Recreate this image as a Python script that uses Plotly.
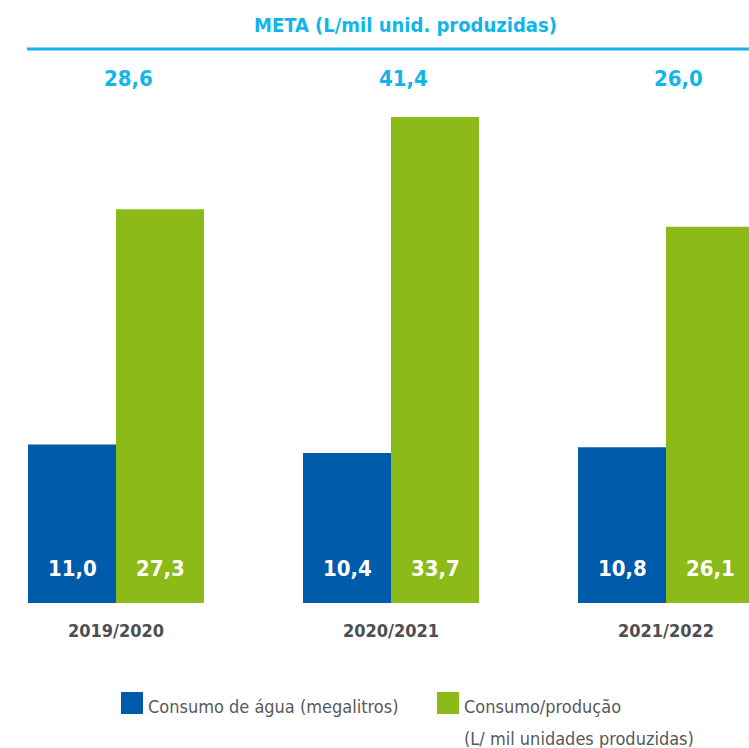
import plotly.graph_objects as go

periodos = ["2019/2020", "2020/2021", "2021/2022"]
consumo_agua = [11.0, 10.4, 10.8]
consumo_producao = [27.3, 33.7, 26.1]
meta = [28.6, 41.4, 26.0]

BLUE = "#005BAA"
GREEN = "#8CBB19"
CYAN = "#12B5EA"
GRAY = "#4D4D52"
FONT = "DejaVu Sans Condensed, Liberation Sans Narrow, sans-serif"

W, H = 749, 748
TOP, BOTTOM = 100, 145
PLOT_H = H - TOP - BOTTOM


def py(pixel):
    # pixel row -> paper y
    return (H - BOTTOM - pixel) / PLOT_H


def px(pixel):
    return pixel / W


def fmt(v):
    return f"{v:.1f}".replace(".", ",")


fig = go.Figure()
fig.add_trace(go.Bar(x=periodos, y=consumo_agua, name="Consumo de água (megalitros)",
                     marker=dict(color=BLUE, line=dict(width=0))))
fig.add_trace(go.Bar(x=periodos, y=consumo_producao, name="Consumo/produção",
                     marker=dict(color=GREEN, line=dict(width=0))))

annotations = []
# values inside bars, near the base
for i, p in enumerate(periodos):
    for vals, shift in ((consumo_agua, -44), (consumo_producao, 44)):
        annotations.append(dict(x=p, y=0, xref="x", yref="y", text=fmt(vals[i]),
                                showarrow=False, xshift=shift, yshift=35,
                                font=dict(family=FONT, size=22, color="white", weight="bold")))
    # meta values on top
    annotations.append(dict(x=p, y=py(78), xref="x", yref="paper", text=fmt(meta[i]),
                            showarrow=False, xshift=12, yanchor="middle",
                            font=dict(family=FONT, size=22, color=CYAN, weight="bold")))

annotations.append(dict(x=px(405), y=py(25), xref="paper", yref="paper",
                        text="META (L/mil unid. produzidas)", showarrow=False,
                        xanchor="center", yanchor="middle",
                        font=dict(family=FONT, size=20, color=CYAN, weight="bold")))

# legend
legend_items = [
    (121, BLUE, "Consumo de água (megalitros)"),
    (437, GREEN, "Consumo/produção"),
]
shapes = [dict(type="line", xref="paper", yref="paper", x0=px(27), x1=1.0,
               y0=py(49), y1=py(49), line=dict(color=CYAN, width=3))]
for x0, color, label in legend_items:
    shapes.append(dict(type="rect", xref="paper", yref="paper", x0=px(x0), x1=px(x0 + 22),
                       y0=py(714), y1=py(692), fillcolor=color, line=dict(width=0)))
    annotations.append(dict(x=px(x0 + 25), y=py(706), xref="paper", yref="paper", text=label,
                            showarrow=False, xanchor="left", yanchor="middle",
                            font=dict(family=FONT, size=18, color="#58585C")))
annotations.append(dict(x=px(462), y=py(738), xref="paper", yref="paper",
                        text="(L/ mil unidades produzidas)", showarrow=False,
                        xanchor="left", yanchor="middle",
                        font=dict(family=FONT, size=18, color="#58585C")))

fig.update_layout(
    width=W, height=H,
    margin=dict(l=0, r=0, t=TOP, b=BOTTOM),
    paper_bgcolor="white", plot_bgcolor="white",
    barmode="group", bargap=0.36, bargroupgap=0,
    showlegend=False,
    annotations=annotations, shapes=shapes,
    font=dict(family=FONT),
)
fig.update_xaxes(range=[-0.4218, 2.3018], showgrid=False, zeroline=False, showline=False,
                 ticks="", ticklabelstandoff=15,
                 tickfont=dict(family=FONT, size=18, color=GRAY, weight="bold"))
fig.update_yaxes(range=[0, PLOT_H / 14.42], visible=False)

# drop the browser's default body margin so the figure sits at (0, 0)
fig.write_html("out.html", config={"displayModeBar": False},
               post_script="document.body.style.margin='0';")
